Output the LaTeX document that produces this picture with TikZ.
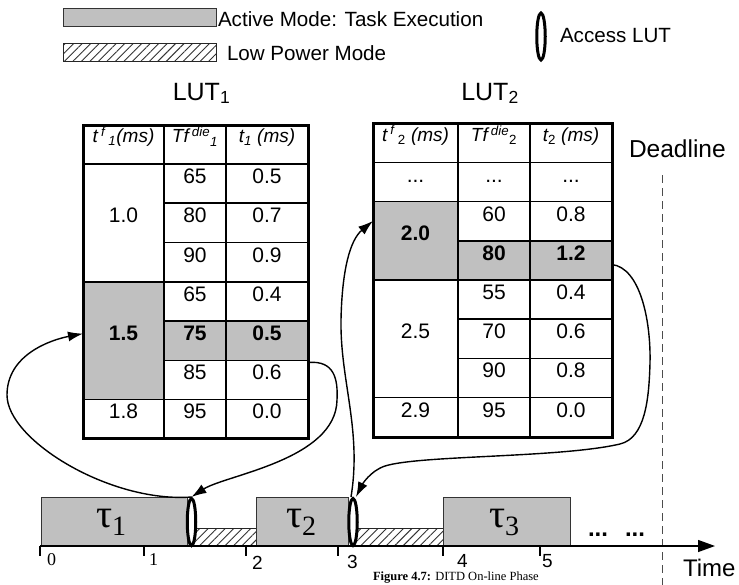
\documentclass[tikz,border=0pt]{standalone}
\usepackage{fontspec}
\setmainfont{Liberation Sans}
\newfontfamily\serifgr{Liberation Serif}
\usetikzlibrary{fit,arrows.meta,patterns.meta,shapes.geometric}

\definecolor{actgray}{HTML}{C0C0C0}
\newcommand\fsz[1]{\fontsize{#1}{#1}\selectfont}
% table cell: style, name, x0, y0, x1, y1, text
\newcommand\tcel[7]{\node[#1,fit={(#3,#4) (#5,#6)}] (#2) {#7};}
\newcommand\taulabel[1]{{\serifgr\fsz{40}τ\raisebox{-8pt}{\fsz{28}#1}}}

\tikzset{
  txt/.style={inner sep=0pt, outer sep=0pt},
  legendfont/.style={font=\fsz{20.6}},
  tcell/.style={draw, line width=1.2pt, inner sep=0pt, outer sep=0pt, font=\fsz{21}},
  hcell/.style={tcell, font=\fsz{19}\itshape},
  gcell/.style={tcell, fill=actgray, font=\fsz{21}\bfseries},
  frame/.style={draw, line width=3pt, inner sep=0pt},
  task/.style={draw=black!80, line width=0.8pt, fill=actgray, inner sep=0pt},
  lowpw/.style={draw=black!85, line width=0.8pt, inner sep=0pt,
    pattern={Lines[angle=45,distance=6pt,line width=0.9pt]}, pattern color=black!80},
  lutacc/.style={ellipse, draw, line width=3pt, fill=white, minimum width=8.5pt,
    minimum height=47pt, inner sep=0pt},
  conn/.style={line width=1.4pt, -{Latex[length=15pt,width=10pt]}},
  ticklbl/.style={txt, anchor=base west, font=\fsz{19}},
  taulbl/.style={txt, anchor=base west},
}

\begin{document}
\begin{tikzpicture}[x=1pt,y=-1pt]
\useasboundingbox (0,0) rectangle (739,584);
\fill[white] (0,0) rectangle (739,584);

% ---------- legend ----------
\node[task, fit={(63,8) (216,26)}] (legact) {};
\node[txt, legendfont, anchor=base west] (legacttxt) at (218,26) {Active Mode: Task Execution};
\node[lowpw, fit={(63,43) (216,61)}] (leglow) {};
\node[txt, legendfont, anchor=base west] (leglowtxt) at (227,60.5) {Low Power Mode};
\node[lutacc] (legacc) at (541,36.5) {};
\node[txt, legendfont, anchor=base west] (legacctxt) at (560,42.5) {Access LUT};

% ---------- LUT 1 ----------
\node[txt, anchor=base, font=\fsz{25}] (lab1) at (201.5,100) {LUT\textsubscript{1}};
\tcel{hcell}{ha1}{83}{125}{164}{164}{t\,\textsuperscript{f}\,\textsubscript{1}(ms)}
\tcel{hcell}{ha2}{164}{125}{226}{164}{Tf\,\textsuperscript{die}\textsubscript{1}}
\tcel{hcell}{ha3}{226}{125}{308}{164}{t\textsubscript{1} (ms)}
\tcel{tcell}{c10}{83}{164}{164}{282}{1.0}
\tcel{tcell}{a65}{164}{164}{226}{203}{65}
\tcel{tcell}{a05}{226}{164}{308}{203}{0.5}
\tcel{tcell}{a80}{164}{203}{226}{242.5}{80}
\tcel{tcell}{a07}{226}{203}{308}{242.5}{0.7}
\tcel{tcell}{a90}{164}{242.5}{226}{282}{90}
\tcel{tcell}{a09}{226}{242.5}{308}{282}{0.9}
\tcel{gcell}{c15}{83}{282}{164}{399.5}{1.5}
\tcel{tcell}{b65}{164}{282}{226}{321}{65}
\tcel{tcell}{b04}{226}{282}{308}{321}{0.4}
\tcel{gcell}{b75}{164}{321}{226}{360.5}{75}
\tcel{gcell}{b05}{226}{321}{308}{360.5}{0.5}
\tcel{tcell}{b85}{164}{360.5}{226}{399.5}{85}
\tcel{tcell}{c06}{226}{360.5}{308}{399.5}{0.6}
\tcel{tcell}{c18}{83}{399.5}{164}{438}{1.8}
\tcel{tcell}{d95}{164}{399.5}{226}{438}{95}
\tcel{tcell}{d00}{226}{399.5}{308}{438}{0.0}
\node[frame, fit={(83,125) (308,438)}] (lut1) {};

% ---------- LUT 2 ----------
\node[txt, anchor=base, font=\fsz{25}] (lab2) at (490,100) {LUT\textsubscript{2}};
\tcel{hcell}{hb1}{373}{123.5}{458}{162.5}{t\,\textsuperscript{f}\,\textsubscript{\upshape 2} (ms)}
\tcel{hcell}{hb2}{458}{123.5}{530}{162.5}{Tf\,\textsuperscript{die}\textsubscript{\upshape 2}}
\tcel{hcell}{hb3}{530}{123.5}{612}{162.5}{t\textsubscript{\upshape 2} (ms)}
\tcel{tcell}{e1a}{373}{162.5}{458}{201.5}{...}
\tcel{tcell}{e1b}{458}{162.5}{530}{201.5}{...}
\tcel{tcell}{e1c}{530}{162.5}{612}{201.5}{...}
\tcel{gcell}{c20}{373}{201.5}{458}{280}{2.0}
\tcel{tcell}{f60}{458}{201.5}{530}{241}{60}
\tcel{tcell}{f08}{530}{201.5}{612}{241}{0.8}
\tcel{gcell}{f80}{458}{241}{530}{280}{80}
\tcel{gcell}{c12}{530}{241}{612}{280}{1.2}
\tcel{tcell}{c25}{373}{280}{458}{397.5}{2.5}
\tcel{tcell}{g55}{458}{280}{530}{319}{55}
\tcel{tcell}{g04}{530}{280}{612}{319}{0.4}
\tcel{tcell}{g70}{458}{319}{530}{358.5}{70}
\tcel{tcell}{g06}{530}{319}{612}{358.5}{0.6}
\tcel{tcell}{g90}{458}{358.5}{530}{397.5}{90}
\tcel{tcell}{g08}{530}{358.5}{612}{397.5}{0.8}
\tcel{tcell}{c29}{373}{397.5}{458}{437}{2.9}
\tcel{tcell}{h95}{458}{397.5}{530}{437}{95}
\tcel{tcell}{h00}{530}{397.5}{612}{437}{0.0}
\node[frame, fit={(373,123.5) (612,437)}] (lut2) {};

% ---------- deadline ----------
\node[txt, anchor=base west, font=\fsz{24.5}] (dltxt) at (629,157) {Deadline};
\coordinate (dl0) at (662,175);
\coordinate (dl1) at (662,590);
\draw[black!70, line width=1pt, dash pattern=on 8pt off 5pt] (dl0) -- (dl1);

% ---------- time line ----------
\node[lowpw, fit={(191,528) (256,546)}] (lp1) {};
\node[lowpw, fit={(353,528) (443,546)}] (lp2) {};
\node[task, fit={(41,497) (187,546)}] (t1) {};
\node[task, fit={(256,497) (348,546)}] (t2) {};
\node[task, fit={(443,497) (570,546)}] (t3) {};
\node[taulbl] (tau1) at (96,527) {\taulabel{1}};
\node[taulbl] (tau2) at (286,527) {\taulabel{2}};
\node[taulbl] (tau3) at (489,527) {\taulabel{3}};
\node[txt, anchor=base west, font=\fsz{24}\bfseries] (more) at (588,536) {...\hspace{17pt}...};

\coordinate (ax0) at (40,546);
\coordinate (ax1) at (715,546);
\draw[line width=1.3pt, -{Triangle[length=17pt,width=12pt]}] (ax0) -- (ax1);
\foreach \tx in {40,144,246,338,443,540}
  \draw[line width=1.2pt] (\tx,546) -- (\tx,556);
\node[ticklbl, font=\serifgr\fsz{18}] (n0) at (47,565) {0};
\node[ticklbl, font=\serifgr\fsz{18}] (n1) at (149,565) {1};
\node[ticklbl] (n2) at (252,569) {2};
\node[ticklbl] (n3) at (347,568) {3};
\node[ticklbl] (n4) at (457,567) {4};
\node[ticklbl] (n5) at (542,567) {5};
\node[txt, anchor=base west, font=\fsz{24}] (timetxt) at (683,576) {Time};

\node[lutacc] (e1) at (191.5,522) {};
\node[lutacc] (e2) at (353,522) {};

% ---------- look-up connectors ----------
\draw[conn] (e1.north) .. controls (110,503) and (7,440) .. (7,395)
  .. controls (7,355) and (50,340) .. (c15.170);
\draw[conn] ([yshift=-2pt]c06.north east) .. controls (335,360) and (338,380) .. (337,400)
  .. controls (336,460) and (225,475) .. (e1.north);
\draw[conn] ([xshift=-2pt]e2.north) .. controls (362,430) and (340,380) .. (341,320)
  .. controls (342,270) and (350,240) .. (c20.155);
\draw[conn] ([yshift=-4pt]c12.east) .. controls (640,268) and (651,320) .. (650,363)
  .. controls (649,400) and (645,438) .. (620,444)
  .. controls (560,458) and (420,455) .. (385,466)
  .. controls (370,471) and (362,485) .. ([xshift=3pt]e2.north);

% ---------- caption ----------
\node[txt, anchor=base west, font=\serifgr\fsz{12.5}] (cap) at (373,580.5)
  {\textbf{Figure 4.7:} DITD On-line Phase};
\end{tikzpicture}
\end{document}
